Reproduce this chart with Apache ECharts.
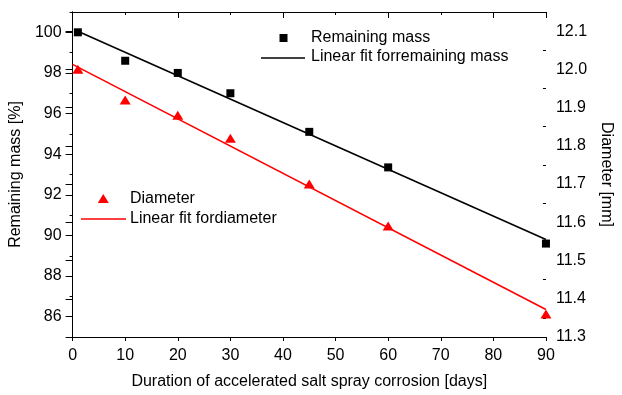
<!DOCTYPE html>
<html>
<head>
<meta charset="utf-8">
<script src="https://cdn.jsdelivr.net/npm/echarts@6/dist/echarts.min.js"></script>
<style>
  html, body { margin: 0; padding: 0; background: #fff; }
  #chart { width: 622px; height: 395px; }
</style>
</head>
<body>
<div id="chart"></div>
<script>
// Exposure time (days) for each measurement
const days = [1, 10, 20, 30, 45, 60, 90];
// Remaining mass of the specimens [%]
const remainingMass = [100.0, 98.6, 98.0, 97.0, 95.1, 93.35, 89.6];
// Specimen diameter [mm]
const diameter = [12.0, 11.92, 11.88, 11.82, 11.70, 11.59, 11.36];

// Linear fit end points
const massFitDays = [1, 90];
const massFit = [100.05, 89.8];
const diameterFitDays = [0, 90];
const diameterFit = [12.013, 11.372];

// Axis ticks
const xTicks = [0, 10, 20, 30, 40, 50, 60, 70, 80, 90];
const massTicks = [86, 88, 90, 92, 94, 96, 98, 100];
const massMinorTicks = [85, 87, 89, 91, 93, 95, 97, 99, 101];
const diameterTicks = [11.3, 11.4, 11.5, 11.6, 11.7, 11.8, 11.9, 12.0, 12.1];
const diameterMinorTicks = [11.35, 11.45, 11.55, 11.65, 11.75, 11.85, 11.95, 12.05];

const FONT = 'Liberation Sans, Arial, sans-serif';
const INK = '#000';
const RED = '#ff0000';

const pairs = (xs, ys) => xs.map((x, i) => [x, ys[i]]);

const chart = echarts.init(document.getElementById('chart'), null, { renderer: 'canvas' });

const axisLine = { show: true, lineStyle: { color: INK, width: 1 } };
const labelStyle = { color: INK, fontFamily: FONT, fontSize: 16 };

chart.setOption({
  animation: false,
  backgroundColor: '#fff',
  grid: { left: 70, right: 73, top: 12, bottom: 56, containLabel: false },
  xAxis: [
    {
      type: 'value', position: 'bottom', min: 0, max: 90,
      axisLine,
      axisTick: { show: true, inside: false, length: 4, customValues: xTicks, lineStyle: { color: INK } },
      axisLabel: Object.assign({ margin: 11, customValues: xTicks }, labelStyle),
      splitLine: { show: false },
      name: 'Duration of accelerated salt spray corrosion [days]',
      nameLocation: 'middle', nameGap: 37,
      nameTextStyle: { color: INK, fontFamily: FONT, fontSize: 16 }
    },
    {
      type: 'value', position: 'top', min: 0, max: 90, interval: 20,
      axisLine,
      axisTick: { show: true, inside: true, length: 6, lineStyle: { color: INK } },
      minorTick: { show: true, splitNumber: 2, length: 3, lineStyle: { color: INK } },
      axisLabel: { show: false },
      splitLine: { show: false }
    }
  ],
  yAxis: [
    {
      type: 'value', position: 'left', min: 85, max: 101,
      axisLine,
      axisTick: { show: true, inside: false, length: 7, customValues: massTicks, lineStyle: { color: INK } },
      axisLabel: Object.assign({ margin: 11, customValues: massTicks }, labelStyle),
      splitLine: { show: false },
      name: 'Remaining mass [%]',
      nameLocation: 'middle', nameGap: 41, nameRotate: 90,
      nameTextStyle: { color: INK, fontFamily: FONT, fontSize: 16 }
    },
    {
      type: 'value', position: 'right', min: 11.3, max: 12.15,
      axisLine,
      axisTick: { show: true, inside: true, length: 7, customValues: diameterTicks, lineStyle: { color: INK } },
      axisLabel: Object.assign({
        margin: 10, customValues: diameterTicks,
        formatter: v => v.toFixed(1)
      }, labelStyle),
      splitLine: { show: false },
      name: 'Diameter [mm]',
      nameLocation: 'middle', nameGap: 40, nameRotate: -90,
      nameTextStyle: { color: INK, fontFamily: FONT, fontSize: 16 }
    },
    {
      // short ticks between the labelled mass ticks
      type: 'value', position: 'left', min: 85, max: 101,
      axisLine: { show: false },
      axisTick: { show: true, inside: false, length: 3, customValues: massMinorTicks, lineStyle: { color: INK } },
      axisLabel: { show: false },
      splitLine: { show: false }
    },
    {
      // short ticks between the labelled diameter ticks
      type: 'value', position: 'right', min: 11.3, max: 12.15,
      axisLine: { show: false },
      axisTick: { show: true, inside: true, length: 3, customValues: diameterMinorTicks, lineStyle: { color: INK } },
      axisLabel: { show: false },
      splitLine: { show: false }
    }
  ],
  series: [
    {
      name: 'Linear fit forremaining mass', type: 'line', xAxisIndex: 0, yAxisIndex: 0,
      data: pairs(massFitDays, massFit), showSymbol: false, symbol: 'none',
      lineStyle: { color: INK, width: 1.6 }, z: 2
    },
    {
      name: 'Linear fit fordiameter', type: 'line', xAxisIndex: 0, yAxisIndex: 1,
      data: pairs(diameterFitDays, diameterFit), showSymbol: false, symbol: 'none',
      lineStyle: { color: RED, width: 1.6 }, z: 2
    },
    {
      name: 'Remaining mass', type: 'scatter', xAxisIndex: 0, yAxisIndex: 0,
      data: pairs(days, remainingMass), symbol: 'rect', symbolSize: 8,
      itemStyle: { color: INK, opacity: 1 }, clip: false, z: 3
    },
    {
      name: 'Diameter', type: 'scatter', xAxisIndex: 0, yAxisIndex: 1,
      data: pairs(days, diameter), symbol: 'triangle', symbolSize: [11, 9],
      itemStyle: { color: RED, opacity: 1 }, clip: false, z: 3
    }
  ],
  graphic: [
    // legend: remaining mass
    { type: 'rect', shape: { x: 279.5, y: 34, width: 8, height: 8 }, style: { fill: INK } },
    { type: 'text', x: 311, y: 38, style: { text: 'Remaining mass', fill: INK, font: '16px ' + FONT, verticalAlign: 'middle' } },
    { type: 'line', shape: { x1: 261, y1: 58, x2: 305, y2: 58 }, style: { stroke: INK, lineWidth: 1.6 } },
    { type: 'text', x: 311, y: 57, style: { text: 'Linear fit forremaining mass', fill: INK, font: '16px ' + FONT, verticalAlign: 'middle' } },
    // legend: diameter
    { type: 'polygon', shape: { points: [[103.3, 194], [108.8, 203], [97.8, 203]] }, style: { fill: RED } },
    { type: 'text', x: 130, y: 199, style: { text: 'Diameter', fill: INK, font: '16px ' + FONT, verticalAlign: 'middle' } },
    { type: 'line', shape: { x1: 81, y1: 219, x2: 126, y2: 219 }, style: { stroke: RED, lineWidth: 1.6 } },
    { type: 'text', x: 130, y: 219, style: { text: 'Linear fit fordiameter', fill: INK, font: '16px ' + FONT, verticalAlign: 'middle' } }
  ]
});
</script>
</body>
</html>
